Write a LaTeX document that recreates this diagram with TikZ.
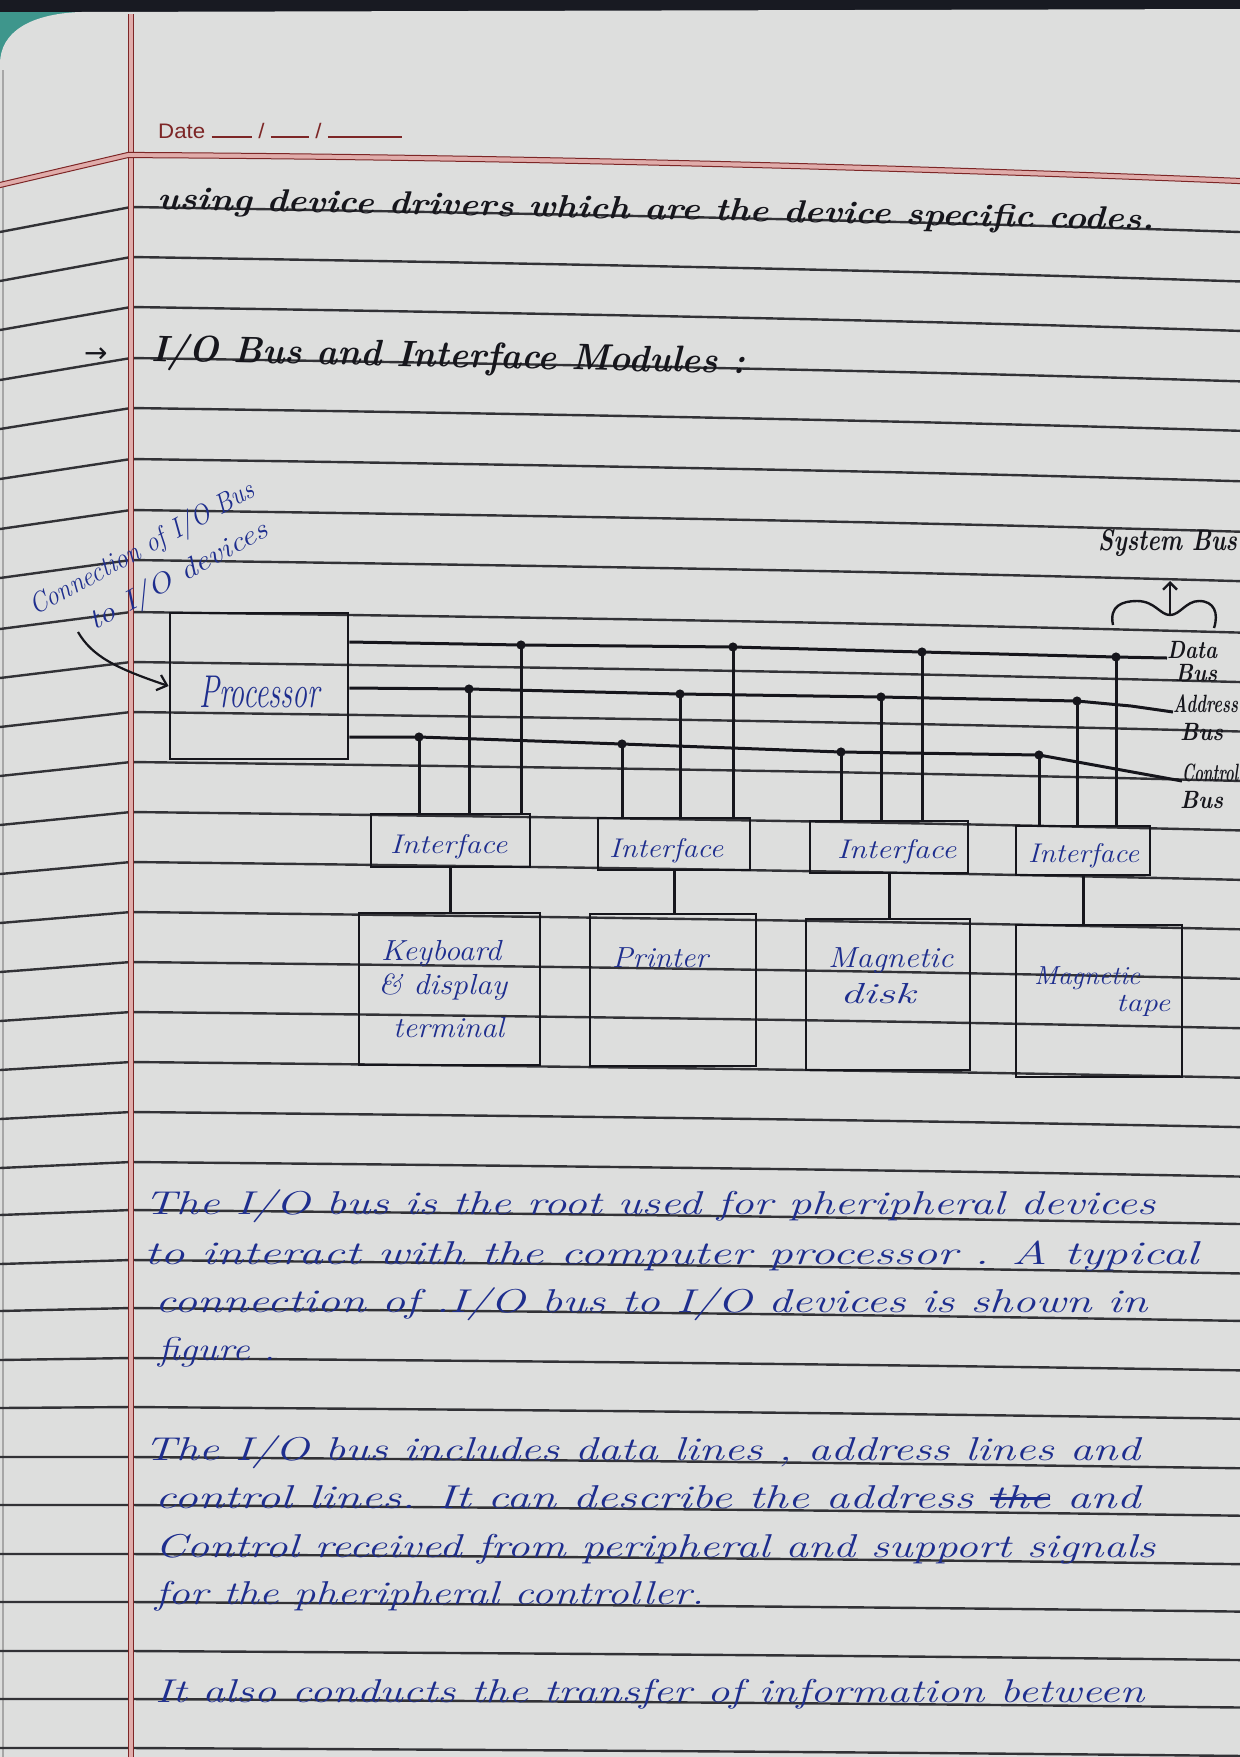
\documentclass[tikz,border=0pt]{standalone}
\usepackage{fontspec}
\usepackage{graphicx}
\usetikzlibrary{arrows.meta}
\newfontfamily\printfont{Liberation Sans}
\newfontfamily\symfont{DejaVu Sans}

\definecolor{paper}{RGB}{221,222,221}
\definecolor{rulegrey}{RGB}{50,50,54}
\definecolor{ink}{RGB}{30,46,142}
\definecolor{pencil}{RGB}{22,22,28}
\definecolor{marginred}{RGB}{125,38,38}
\definecolor{marginpink}{RGB}{224,172,170}
\definecolor{deskteal}{RGB}{62,150,140}
\definecolor{deskdark}{RGB}{24,26,34}

% handwriting helpers: stretch a line to a given width, keep its height
\newcommand\hw[2]{\resizebox{#1pt}{\height}{#2}}
\newcommand\fs[1]{\fontsize{#1}{#1}\selectfont}
\newcommand\struckword[1]{\setbox0=\hbox{#1}\rlap{\copy0}\rule[0.25em]{\wd0}{0.09em}}

\tikzset{
  ruling/.style={rulegrey, line width=2.4pt},
  wire/.style={pencil, line width=3pt},
  box/.style={draw=pencil, line width=2.8pt, inner sep=0pt},
  bluehand/.style={text=ink, inner sep=0pt, anchor=base west},
  blackhand/.style={text=pencil, inner sep=0pt, anchor=base west},
  para/.style={bluehand, font={\itshape\fs{33}}},
}

\begin{document}
\begin{tikzpicture}[x=1pt,y=-1pt]
\useasboundingbox (0,0) rectangle (1240,1757);

% desk and sheet
\fill[deskdark] (0,0) rectangle (1240,60);
\fill[deskteal] (0,12) rectangle (75,62);
\fill[paper] (0,64) .. controls (0,32) and (30,14) .. (80,12) -- (1240,9) -- (1240,1757) -- (0,1757) -- cycle;
\draw[gray!70, line width=1.2pt] (3,70) -- (3,1757);

% ruled lines
\foreach \yl [count=\k from 0] in {207,257,307,358,408,459,510,560,612,662,712,762,812,862,912,962,1012,1062,1112,1162,1210,1260,1308,1358,1407,1457,1505,1554,1602,1651,1699,1748} {
  \pgfmathsetmacro\dr{25-0.55*\k}
  \pgfmathsetmacro\el{max(0,25-\k)}
  \draw[ruling] (0,{\yl+\el}) -- (131,\yl) .. controls (600,{\yl+0.3*\dr}) and (900,{\yl+0.55*\dr}) .. (1240,{\yl+\dr});
}

% margin and header rules
\draw[marginpink, line width=4pt] (130.5,14) -- (130.5,1757);
\draw[marginred, line width=0.9pt] (128,14) -- (128,1757);
\draw[marginred, line width=0.9pt] (133,14) -- (133,1757);
\draw[marginpink, line width=5pt] (0,185) -- (128,155) .. controls (500,157) and (900,167) .. (1240,181);
\foreach \o in {-2.6,2.6} {
  \draw[marginred, line width=1pt] (0,{185+\o}) -- (128,{155+\o}) .. controls (500,{157+\o}) and (900,{167+\o}) .. (1240,{181+\o});
}
\node[inner sep=0pt, anchor=base west, text=marginred, font={\printfont\fs{21}}] (date) at (158,138)
  {\hw{244}{Date\hspace{6pt}\rule{38pt}{1.8pt}\hspace{6pt}/\hspace{6pt}\rule{36pt}{1.8pt}\hspace{6pt}/\hspace{6pt}\rule{70pt}{1.8pt}}};

% text above the figure
\node[blackhand, rotate=-1.2, font={\bfseries\itshape\fs{32}}] (intro) at (157,209)
  {\hw{997}{using device drivers which are the device specific codes.}};
\node[blackhand, font={\symfont\fs{28}}] (harrow) at (84,362) {→};
\node[blackhand, rotate=-1.2, font={\bfseries\itshape\fs{37}}] (heading) at (151,361)
  {\hw{594}{I/O Bus and Interface Modules :}};

% caption (two slanted lines) and pointer
\node[bluehand, rotate=28.5, font={\itshape\fs{28}}] (caption) at (35,616)
  {\hw{252}{Connection of I/O Bus}\rlap{\hspace*{-207pt}\raisebox{-41pt}{\hw{200}{to I/O devices}}}};

% processor
\node[box, minimum width=178, minimum height=146] (proc) at (259,686) {};
\node[bluehand, font={\itshape\fs{46}}] (proct) at (199,707) {\hw{121}{Processor}};
\coordinate (capend) at (78,632);
\draw[pencil, line width=2.2pt, -{Straight Barb[length=9pt,width=16pt]}] (capend) .. controls (92,656) and (115,668) .. (proc.west);

% interface modules
\node[box, minimum width=159, minimum height=53] (i1) at (450.5,840.5) {};
\node[box, minimum width=152, minimum height=52] (i2) at (674,844) {};
\node[box, minimum width=158, minimum height=52] (i3) at (889,847) {};
\node[box, minimum width=134, minimum height=49] (i4) at (1083,850.5) {};
\node[bluehand, font={\itshape\fs{27}}] (i1t) at (390,853) {\hw{117}{Interface}};
\node[bluehand, font={\itshape\fs{27}}] (i2t) at (609,857) {\hw{114}{Interface}};
\node[bluehand, font={\itshape\fs{27}}] (i3t) at (837,858) {\hw{119}{Interface}};
\node[bluehand, font={\itshape\fs{27}}] (i4t) at (1028,862) {\hw{111}{Interface}};

% devices
\node[box, minimum width=181, minimum height=152] (kb) at (449.5,989) {};
\node[box, minimum width=166, minimum height=152] (pr) at (673,990) {};
\node[box, minimum width=164, minimum height=151] (md) at (888,994.5) {};
\node[box, minimum width=166, minimum height=152] (mt) at (1099,1001) {};
\node[bluehand, font={\itshape\fs{29}}] (kb1) at (381,960) {\hw{120}{Keyboard}};
\node[bluehand, font={\itshape\fs{29}}] (kb2) at (378,994) {\hw{129}{\& display}};
\node[bluehand, font={\itshape\fs{29}}] (kb3) at (393,1037) {\hw{111}{terminal}};
\node[bluehand, font={\itshape\fs{29}}] (prt) at (612,967) {\hw{96}{Printer}};
\node[bluehand, font={\itshape\fs{29}}] (md1) at (828,967) {\hw{125}{Magnetic}};
\node[bluehand, font={\itshape\fs{29}}] (md2) at (840,1003) {\hw{75}{disk}};
\node[bluehand, font={\itshape\fs{26}}] (mt1) at (1034,984) {\hw{106}{Magnetic}};
\node[bluehand, font={\itshape\fs{26}}] (mt2) at (1116,1011) {\hw{54}{tape}};

% tap points on the bus lines
\coordinate (c1) at (419,737); \coordinate (a1) at (469,689); \coordinate (d1) at (521,645);
\coordinate (c2) at (622,744); \coordinate (a2) at (680,694); \coordinate (d2) at (733,647);
\coordinate (c3) at (841,752); \coordinate (a3) at (881,697); \coordinate (d3) at (922,652);
\coordinate (c4) at (1039,755); \coordinate (a4) at (1077,701); \coordinate (d4) at (1116,657);

% bus labels
\node[blackhand, font={\bfseries\itshape\fs{30}}] (sys) at (1098,550) {\hw{139}{System Bus}};
\node[blackhand, font={\bfseries\itshape\fs{25}}] (dl1) at (1167,658) {\hw{50}{Data}};
\node[blackhand, font={\bfseries\itshape\fs{25}}] (dl2) at (1175,681) {\hw{42}{Bus}};
\node[blackhand, font={\bfseries\itshape\fs{25}}] (al1) at (1173,712) {\hw{65}{Address}};
\node[blackhand, font={\bfseries\itshape\fs{25}}] (al2) at (1180,740) {\hw{43}{Bus}};
\node[blackhand, font={\bfseries\itshape\fs{25}}] (cl1) at (1182,781) {\hw{56}{Control}};
\node[blackhand, font={\bfseries\itshape\fs{25}}] (cl2) at (1180,808) {\hw{43}{Bus}};

% system bus brace and arrow
\coordinate (bracemid) at (1170,615);
\coordinate (systip) at (1170,581);
\draw[pencil, line width=2.4pt] (1113,625) .. controls (1109,606) and (1122,601) .. (1137,601)
  .. controls (1155,601) and (1160,615) .. (bracemid)
  .. controls (1180,615) and (1186,601) .. (1199,601)
  .. controls (1214,601) and (1219,613) .. (1214,628);
\draw[pencil, line width=2.4pt, -{Straight Barb[length=7pt,width=14pt]}] (bracemid) -- (systip);

% bus lines
\draw[wire] (proc.east |- 0,642) -- (d1) -- (d2) -- (d3) -- (d4) -- (dl1.base west);
\draw[wire] (proc.east |- 0,688) -- (a1) -- (a2) -- (a3) -- (a4) -- (1131,706) -- (al1.base west);
\draw[wire] (proc.east |- 0,737) -- (c1) -- (c2) -- (c3) -- (c4) -- (cl1.base west);

% drops from the bus to each interface
\foreach \n in {1,2,3,4} {
  \foreach \b in {c,a,d} {
    \draw[wire] (\b\n) -- (\b\n |- i\n.north);
    \fill[pencil] (\b\n) circle (4.6);
  }
}

% interface to device links
\draw[wire] (i1.south) -- (i1.south |- kb.north);
\draw[wire] (i2.south) -- (i2.south |- pr.north);
\draw[wire] (i3.south) -- (i3.south |- md.north);
\draw[wire] (i4.south) -- (i4.south |- mt.north);

% explanation below the figure
\node[para] (p1) at (144,1214) {\hw{1011}{The I/O bus is the root used for pheripheral devices}};
\node[para] (p2) at (144,1264) {\hw{1054}{to interact with the computer processor . A typical}};
\node[para] (p3) at (155,1312) {\hw{992}{connection of .I/O bus to I/O devices is shown in}};
\node[para] (p4) at (158,1360) {\hw{117}{figure .}};
\node[para] (q1) at (144,1460) {\hw{996}{The I/O bus includes data lines , address lines and}};
\node[para] (q2) at (155,1508) {\hw{985}{control lines. It can describe the address \struckword{the} and}};
\node[para] (q3) at (155,1557) {\hw{1000}{Control received from peripheral and support signals}};
\node[para] (q4) at (155,1604) {\hw{549}{for the pheripheral controller.}};
\node[para] (r1) at (155,1702) {\hw{989}{It also conducts the transfer of information between}};

\end{tikzpicture}
\end{document}
